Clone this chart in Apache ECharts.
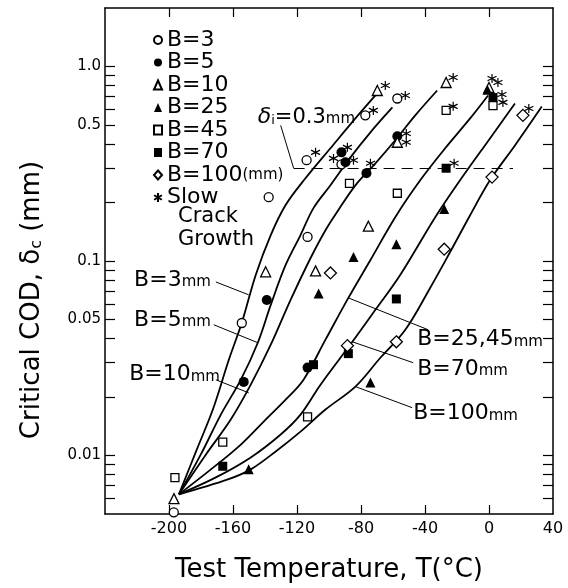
<!DOCTYPE html>
<html><head><meta charset="utf-8">
<script src="https://cdn.jsdelivr.net/npm/echarts@6/dist/echarts.min.js"></script>
<style>html,body{margin:0;padding:0;background:#fff}#c{width:568px;height:588px}</style>
</head><body><div id="c"></div>
<script>
// ---- axis ticks ----
const xTickValues = [-200, -160, -120, -80, -40, 0];
const xLabelValues = [-200, -160, -120, -80, -40, 0, 40];
const yLabelValues = [0.01, 0.05, 0.1, 0.5, 1.0];
const yTickValues = [0.006,0.007,0.008,0.009,0.01,0.02,0.03,0.04,0.05,0.06,0.07,0.08,0.09,
                     0.1,0.2,0.3,0.4,0.5,0.6,0.7,0.8,0.9,1.0];

// ---- measured points [T (°C), critical COD (mm)] ----
const b3   = [[-197,0.0051],[-154.5,0.048],[-137.7,0.213],[-113.4,0.133],[-114,0.33],[-92.2,0.314],[-77.3,0.561],[-57.3,0.685]];
const b5   = [[-153.3,0.0239],[-138.9,0.063],[-113.4,0.0283],[-92.2,0.362],[-89.7,0.322],[-76.6,0.283],[-57.3,0.438]];
const b10  = [[-196.9,0.006],[-139.6,0.088],[-108.4,0.089],[-75.4,0.151],[-57.3,0.408],[-69.8,0.753],[-26.8,0.828],[0,0.78]];
const b25  = [[-150.2,0.0085],[-106.5,0.068],[-84.7,0.105],[-57.9,0.122],[-28,0.185],[-74.1,0.0237],[-1,0.76]];
const b45  = [[-196.3,0.0077],[-166.4,0.0117],[-113.4,0.0158],[-87.2,0.251],[-57.3,0.223],[-26.8,0.595],[2.5,0.63]];
const b70  = [[-166.4,0.0088],[-109.7,0.0293],[-87.9,0.0334],[-57.9,0.0638],[-26.8,0.30],[2.5,0.693]];
const b100 = [[-99.1,0.0868],[-88.5,0.0367],[-57.9,0.0384],[-28,0.115],[1.9,0.27],[21.2,0.561]];
const slow = [[-108.4,0.362],[-97.2,0.337],[-88.5,0.384],[-84.7,0.330],[-72.3,0.595],[-74.1,0.318],[-64.8,0.799],
              [-52.3,0.71],[-51.7,0.453],[-51.7,0.408],[-22.4,0.878],[-22.4,0.624],[-21.8,0.318],[1.9,0.868],
              [5.6,0.828],[8.1,0.718],[8.7,0.654],[24.9,0.609]];

// ---- fitted curves [T, COD] ----
const c3   = [[-193.8,0.00631],[-182.6,0.01074],[-172.6,0.01722],[-162.6,0.03105],[-154.5,0.0481],[-145.8,0.0848],[-136.4,0.136],[-127.1,0.194],[-114.6,0.267],[-99.1,0.380],[-83.5,0.541],[-71.0,0.710]];
const c5   = [[-193.8,0.00631],[-180.1,0.01012],[-167.6,0.01622],[-155.1,0.02454],[-144.5,0.0380],[-136.4,0.0595],[-127.1,0.0954],[-117.8,0.136],[-109.7,0.187],[-99.1,0.245],[-86.6,0.341],[-74.1,0.459],[-60.4,0.616]];
const c10  = [[-193.8,0.00631],[-176.9,0.01012],[-161.4,0.0153],[-148.9,0.02312],[-136.4,0.0371],[-124.0,0.0631],[-111.5,0.1036],[-102.2,0.144],[-94.1,0.183],[-83.5,0.245],[-71.0,0.318],[-58.6,0.418],[-46.1,0.561],[-32.4,0.753]];
const c25  = [[-193.8,0.00631],[-173.8,0.00848],[-155.1,0.01138],[-139.6,0.0153],[-127.1,0.01937],[-115.9,0.02454],[-102.2,0.0394],[-87.9,0.0646],[-74.1,0.1012],[-58.6,0.168],[-43.0,0.260],[-27.4,0.380],[-11.8,0.541],[-0.6,0.710]];
const c70  = [[-193.8,0.00631],[-170.7,0.00771],[-148.9,0.00977],[-130.2,0.01282],[-117.8,0.01622],[-105.3,0.02312],[-85.4,0.0384],[-71.0,0.0561],[-55.5,0.0848],[-33.6,0.168],[-18.1,0.260],[0.6,0.427],[16.2,0.646]];
const c100 = [[-193.8,0.00631],[-163.2,0.00753],[-148.9,0.00848],[-133.3,0.01049],[-117.8,0.01327],[-102.2,0.01722],[-83.5,0.0226],[-67.9,0.0318],[-52.3,0.0443],[-36.8,0.0727],[-24.3,0.1112],[-11.8,0.172],[0.6,0.260],[16.2,0.393],[33.0,0.623]];

// ---- annotations (data coordinates) ----
const noteText  = ['B=3', 'B=5', 'B=10', 'B=25,45', 'B=70', 'B=100'];
const noteAt    = [[-221.8,0.0799],[-221.8,0.0498],[-224.9,0.026],[-44.9,0.0394],[-44.9,0.0279],[-47.4,0.0164]];
const arrowFrom = [[-170.7,0.078],[-172,0.047],[-170.7,0.0245],[-38,0.0443],[-47.4,0.030],[-48,0.0176]];
const arrowTo   = [[-150.2,0.067],[-144.5,0.038],[-150.2,0.021],[-87.9,0.0646],[-85.4,0.0384],[-83.5,0.0226]];
const deltaI = 0.3;
const deltaNoteAt = [-144.5, 0.548];
const deltaArrow = [[-130.2, 0.498], [-122.1, 0.3]];
const dashedRange = [-122.1, 15];

const FONT = 'DejaVu Sans';
const open = {color:'#fff', borderColor:'#000', borderWidth:1.3, opacity:1};
const filled = {color:'#000', borderColor:'#000', borderWidth:0, opacity:1};
const star = 'path://M5,0L5,10M0.67,2.5L9.33,7.5M0.67,7.5L9.33,2.5';

function pts(name, data, symbol, style, size) {
  return {name, type:'scatter', data, symbol, symbolSize:size, itemStyle:style, z:5,
          xAxisIndex:0, yAxisIndex:0};
}
function curve(data, extra) {
  return Object.assign({type:'line', data, smooth:0.35, symbol:'none', z:3,
    lineStyle:{color:'#000', width:1.8}, xAxisIndex:0, yAxisIndex:0}, extra||{});
}
function fmtY(v){ const r = +(+v).toPrecision(2); return r >= 1 ? r.toFixed(1) : String(r); }

const chart = echarts.init(document.getElementById('c'), null, {renderer:'canvas'});
const common = {fontFamily: FONT, color:'#000'};
const axLine = {onZero:false, lineStyle:{color:'#000', width:1.5}};
const option = {
  animation:false,
  backgroundColor:'#fff',
  grid:{left:105, right:15, top:8, bottom:74, outerBoundsMode:'none', containLabel:false},
  legend:{
    data:['B=3','B=5','B=10','B=25','B=45','B=70','B=100','Slow'],
    orient:'vertical', left:153, top:29, padding:0, itemWidth:8, itemHeight:9, itemGap:0.5,
    selectedMode:false,
    formatter: n => n === 'B=100' ? 'B=100{mm|(mm)}' : n,
    textStyle:Object.assign({fontSize:22, lineHeight:21.5, rich:{mm:{fontSize:15, fontFamily:FONT, color:'#000'}}}, common)
  },
  graphic:[{type:'text', left:178, top:205, style:{text:'Crack\nGrowth', font:'21px "DejaVu Sans"', lineHeight:23, fill:'#000'}}],
  xAxis:[{
    type:'value', min:-240, max:40, interval:40, position:'bottom',
    name:'Test Temperature, T(°C)', nameLocation:'middle', nameGap:43,
    nameTextStyle:Object.assign({fontSize:26}, common),
    axisLine:axLine,
    axisTick:{inside:true, length:9, customValues:xTickValues, lineStyle:{color:'#000', width:1.2}},
    axisLabel:{customValues:xLabelValues, formatter:v => String(v), fontSize:16, margin:7, fontFamily:FONT, color:'#000'},
    splitLine:{show:false}
  },{
    type:'value', min:-240, max:40, interval:40, position:'top',
    axisLine:axLine,
    axisTick:{inside:true, length:9, customValues:xTickValues, lineStyle:{color:'#000', width:1.2}},
    axisLabel:{show:false}, splitLine:{show:false}
  }],
  yAxis:[{
    type:'log', min:0.005, max:2, position:'left',
    name:'Critical COD, δ{s|c} (mm)', nameLocation:'middle', nameGap:60, nameRotate:90,
    nameTextStyle:Object.assign({fontSize:26, padding:[0,78,0,0],
      rich:{s:{fontSize:16, fontFamily:FONT, color:'#000', verticalAlign:'bottom', padding:[10,0,0,0]}}}, common),
    axisLine:axLine,
    axisTick:{inside:true, length:10, customValues:yTickValues, lineStyle:{color:'#000', width:1.2}},
    axisLabel:{customValues:yLabelValues, formatter:fmtY, fontSize:15, margin:4, fontFamily:FONT, color:'#000'},
    splitLine:{show:false}, minorTick:{show:false}
  },{
    type:'log', min:0.005, max:2, position:'right',
    axisLine:axLine,
    axisTick:{inside:true, length:10, customValues:yTickValues, lineStyle:{color:'#000', width:1.2}},
    axisLabel:{show:false}, splitLine:{show:false}
  }],
  series:[
    curve(c3, {markLine:{silent:true, symbol:['none','none'], label:{show:false},
      lineStyle:{color:'#000', width:1.2, type:[11,7]},
      data:[[{coord:[dashedRange[0], deltaI]},{coord:[dashedRange[1], deltaI]}]]}}),
    curve(c5), curve(c10), curve(c25), curve(c70), curve(c100),
    pts('B=3', b3, 'circle', open, 9),
    pts('B=5', b5, 'circle', filled, 10),
    pts('B=10', b10, 'triangle', open, 10),
    pts('B=25', b25, 'triangle', filled, 10),
    pts('B=45', b45, 'rect', open, 8),
    pts('B=70', b70, 'rect', filled, 9),
    pts('B=100', b100, 'diamond', open, 12),
    pts('Slow', slow, star, {color:'rgba(0,0,0,0)', borderColor:'#000', borderWidth:1.2, opacity:1}, 9),
    {
      name:'notes', type:'scatter', symbolSize:0, z:6, silent:true, itemStyle:{opacity:1},
      data: noteAt.map((p,i) => [p[0], p[1], noteText[i]]),
      label:{show:true, position:'right', distance:0, formatter: p => '{b|' + p.data[2] + '}{m|mm}',
        rich:{b:{fontSize:22, fontFamily:FONT, color:'#000'}, m:{fontSize:15, fontFamily:FONT, color:'#000', padding:[4,0,0,0]}}},
      markLine:{silent:true, symbol:['none','arrow'], symbolSize:[0,8], label:{show:false},
        lineStyle:{color:'#000', width:1, type:'solid', opacity:1},
        data: arrowFrom.map((f,i) => [{coord:f},{coord:arrowTo[i]}]).concat([[{coord:deltaArrow[0]},{coord:deltaArrow[1]}]])}
    },
    {
      name:'deltaNote', type:'scatter', symbolSize:0, z:6, silent:true, itemStyle:{opacity:1},
      data:[[deltaNoteAt[0], deltaNoteAt[1]]],
      label:{show:true, position:'right', distance:0, formatter:'{d|δ}{s|i}{b|=0.3}{m|mm}',
        rich:{d:{fontSize:22, fontFamily:FONT, fontStyle:'italic', color:'#000'},
              s:{fontSize:13, fontFamily:FONT, color:'#000', padding:[6,0,0,0]},
              b:{fontSize:21, fontFamily:FONT, color:'#000'},
              m:{fontSize:15, fontFamily:FONT, color:'#000', padding:[4,0,0,0]}}}
    }
  ]
};
chart.setOption(option);
</script></body></html>
